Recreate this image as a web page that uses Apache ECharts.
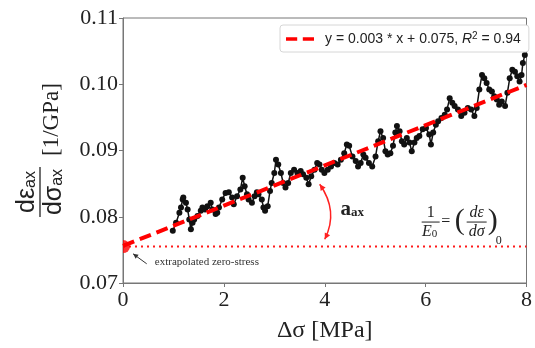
<!DOCTYPE html>
<html><head><meta charset="utf-8">
<script src="https://cdn.jsdelivr.net/npm/echarts@6/dist/echarts.min.js"></script>
<style>html,body{margin:0;padding:0;background:#fff}#c{width:535px;height:348px}</style>
</head><body><div id="c"></div>
<script>
// Measured data: stress increment (MPa) vs. compliance dε/dσ (1/GPa)
const stressX = [0.987,1.052,1.118,1.150,1.183,1.196,1.248,1.281,1.314,1.346,1.379,1.412,1.477,1.542,1.575,1.627,1.673,1.739,1.771,1.837,1.869,1.902,1.967,2.033,2.098,2.163,2.196,2.261,2.327,2.373,2.412,2.458,2.490,2.556,2.608,2.654,2.686,2.752,2.784,2.817,2.869,2.915,2.948,3.000,3.033,3.078,3.131,3.176,3.222,3.275,3.327,3.392,3.458,3.523,3.569,3.634,3.680,3.732,3.797,3.850,3.895,3.941,3.993,4.059,4.124,4.190,4.255,4.320,4.386,4.438,4.484,4.549,4.614,4.660,4.712,4.765,4.810,4.876,4.941,5.007,5.059,5.105,5.157,5.203,5.248,5.301,5.353,5.399,5.431,5.484,5.529,5.575,5.627,5.680,5.725,5.778,5.824,5.876,5.941,6.007,6.072,6.105,6.150,6.203,6.248,6.314,6.379,6.425,6.477,6.529,6.575,6.641,6.706,6.771,6.837,6.902,6.967,7.013,7.065,7.118,7.163,7.209,7.261,7.314,7.359,7.412,7.458,7.510,7.575,7.621,7.667,7.719,7.771,7.817,7.863,7.902,7.928,7.967];
const compliance = [0.0779,0.0791,0.0806,0.0814,0.0826,0.0829,0.0821,0.0811,0.0796,0.0781,0.0791,0.0796,0.0801,0.0809,0.0814,0.0811,0.0816,0.0821,0.0811,0.0804,0.0806,0.0814,0.0826,0.0836,0.0837,0.0829,0.0819,0.0831,0.0841,0.0859,0.0846,0.0834,0.0826,0.0821,0.0831,0.0837,0.0834,0.0826,0.0814,0.0809,0.0816,0.0839,0.0851,0.0866,0.0886,0.0879,0.0866,0.0851,0.0844,0.0851,0.0866,0.0871,0.0866,0.0869,0.0864,0.0859,0.0849,0.0861,0.0871,0.0881,0.0879,0.0871,0.0866,0.0871,0.0876,0.0881,0.0879,0.0886,0.0896,0.0909,0.0907,0.0891,0.0884,0.0876,0.0881,0.0894,0.0889,0.0881,0.0876,0.0891,0.0914,0.0929,0.0919,0.0899,0.0894,0.0896,0.0907,0.0927,0.0937,0.0929,0.0914,0.0909,0.0919,0.0912,0.0899,0.0912,0.0919,0.0922,0.0932,0.0934,0.0924,0.0909,0.0927,0.0939,0.0944,0.0949,0.0954,0.0962,0.0979,0.0972,0.0967,0.0962,0.0952,0.0957,0.0964,0.0962,0.0952,0.0964,0.0992,0.1014,0.1009,0.1002,0.0992,0.0989,0.0982,0.0977,0.0969,0.0974,0.0967,0.0987,0.1009,0.1022,0.1019,0.1012,0.1004,0.1014,0.1032,0.1044];
// Linear fit line end points
const fitX = [0, 8];
const fitY = [0.0756, 0.0999];
const fitName = 'y = 0.003 * x + 0.075, R² = 0.94';
// Extrapolated zero-stress compliance
const zeroStressY = 0.0755;
const xTicks = [0, 2, 4, 6, 8];
const yTicks = [0.07, 0.08, 0.09, 0.10, 0.11];

const chart = echarts.init(document.getElementById('c'));
const serif = 'Liberation Serif';
const sans = 'Liberation Sans';

chart.setOption({
  animation: false,
  grid: {left: 123, right: 2, top: 18, bottom: 65, show: true, borderColor: '#777', borderWidth: 1},
  legend: {
    data: [{name: fitName, icon: 'path://M0,0 H12 V4 H0 Z M18,0 H30 V4 H18 Z', itemStyle: {color: '#ff0000'}}],
    left: 280, top: 25, padding: [6, 8, 6, 6],
    backgroundColor: '#fff', borderColor: '#d6d6d6', borderWidth: 1, borderRadius: 3,
    itemWidth: 28, itemHeight: 4,
    formatter: () => '{t|y = 0.003 * x + 0.075, }{i|R}{p|2}{t| = 0.94}',
    textStyle: {
      padding: [0, 0, 0, 6],
      rich: {
        t: {fontFamily: sans, fontSize: 14, color: '#222', lineHeight: 16},
        i: {fontFamily: sans, fontSize: 14, fontStyle: 'italic', color: '#222', lineHeight: 16},
        p: {fontFamily: sans, fontSize: 10, color: '#222', verticalAlign: 'top', lineHeight: 10}
      }
    }
  },
  xAxis: {
    type: 'value', min: xTicks[0], max: xTicks[xTicks.length - 1], interval: 2,
    name: 'Δσ [MPa]', nameLocation: 'middle', nameGap: 36,
    nameTextStyle: {fontFamily: serif, fontSize: 24, color: '#222'},
    axisLine: {show: true, lineStyle: {color: '#777', width: 1}},
    axisTick: {show: true, length: 4, lineStyle: {color: '#777'}},
    axisLabel: {fontFamily: serif, fontSize: 22, color: '#222', margin: 6},
    splitLine: {show: false}
  },
  yAxis: {
    type: 'value', min: yTicks[0], max: yTicks[yTicks.length - 1], interval: 0.01,
    axisLine: {show: true, lineStyle: {color: '#777', width: 1}},
    axisTick: {show: true, length: 4, lineStyle: {color: '#777'}},
    axisLabel: {fontFamily: serif, fontSize: 22, color: '#222', margin: 5, formatter: v => v.toFixed(2)},
    splitLine: {show: false}
  },
  series: [
    {
      type: 'line', name: 'data', data: stressX.map((x, i) => [x, compliance[i]]),
      symbol: 'circle', symbolSize: 6, showSymbol: true,
      itemStyle: {color: '#111'}, lineStyle: {color: '#111', width: 1.5}, z: 2
    },
    {
      type: 'line', name: 'zero', data: [[fitX[0], zeroStressY], [fitX[1], zeroStressY]],
      symbol: 'none', lineStyle: {color: '#ff1a1a', width: 2, type: [2, 4]}, z: 3
    },
    {
      type: 'line', name: fitName, data: fitX.map((x, i) => [x, fitY[i]]),
      symbol: 'none', lineStyle: {color: '#ff0000', width: 4, type: [12, 6]}, itemStyle: {color: '#ff0000'}, z: 4
    },
    {
      type: 'scatter', name: 'origin', data: [[0, zeroStressY]],
      symbol: 'path://M0,0 A5,5 0 0,1 0,10 Z', symbolKeepAspect: false,
      symbolSize: [7, 13], symbolOffset: [3.5, 0], itemStyle: {color: '#ff0000'}, z: 5
    }
  ]
});

function px(p) { return chart.convertToPixel({gridIndex: 0}, p); }
function head(tip, from, len, wid, color) {
  const dx = tip[0] - from[0], dy = tip[1] - from[1];
  const L = Math.hypot(dx, dy), ux = dx / L, uy = dy / L;
  const bx = tip[0] - ux * len, by = tip[1] - uy * len;
  return {type: 'polygon', shape: {points: [tip, [bx - uy * wid, by + ux * wid], [bx + uy * wid, by - ux * wid]]}, style: {fill: color}, z: 100};
}

const g = [];
// Y-axis label (rotated fraction)
const subRich = {m: {fontFamily: sans, fontSize: 25, lineHeight: 24, fill: '#222', color: '#222'}, s: {fontFamily: sans, fontSize: 16, lineHeight: 12, verticalAlign: 'bottom', fill: '#222', color: '#222'}};
g.push({
  type: 'group', x: 40, y: 192, rotation: Math.PI / 2, z: 100,
  children: [
    {type: 'text', x: 0, y: -1, style: {text: '{m|dε}{s|ax}', align: 'center', verticalAlign: 'bottom', textAlign: 'center', textVerticalAlign: 'bottom', fill: '#222', rich: subRich}},
    {type: 'line', shape: {x1: -25, y1: 0, x2: 25, y2: 0}, style: {stroke: '#222', lineWidth: 1.3}},
    {type: 'text', x: 0, y: 2, style: {text: '{m|dσ}{s|ax}', align: 'center', verticalAlign: 'top', textAlign: 'center', textVerticalAlign: 'top', fill: '#222', rich: subRich}},
    {type: 'text', x: 36, y: 12, style: {text: '[1/GPa]', font: '23px ' + serif, align: 'left', verticalAlign: 'middle', textAlign: 'left', textVerticalAlign: 'middle', fill: '#222'}}
  ]
});

// Extrapolated zero-stress annotation
const tA = px([0.63, 0.0732]);
g.push({type: 'text', x: tA[0], y: tA[1], z: 100, style: {text: 'extrapolated zero-stress', font: '11px ' + serif, fill: '#333', align: 'left', verticalAlign: 'middle', textAlign: 'left', textVerticalAlign: 'middle'}});
const a0 = px([0.47, 0.0729]), a1 = px([0.20, 0.0744]);
g.push({type: 'line', z: 100, shape: {x1: a0[0], y1: a0[1], x2: a1[0], y2: a1[1]}, style: {stroke: '#333', lineWidth: 1}});
g.push(head(a1, a0, 5, 2.5, '#333'));

// Curved double arrow
const c0 = px([3.90, 0.0849]), cc = px([4.28, 0.0808]), c1 = px([4.00, 0.0766]);
g.push({type: 'bezierCurve', z: 100, shape: {x1: c0[0], y1: c0[1], x2: c1[0], y2: c1[1], cpx1: cc[0], cpy1: cc[1]}, style: {stroke: '#ff2020', lineWidth: 1.5, fill: null}});
g.push(head(c0, [c0[0] + (cc[0] - c0[0]) * 0.3, c0[1] + (cc[1] - c0[1]) * 0.3], 6, 3, '#ff2020'));
g.push(head(c1, [c1[0] + (cc[0] - c1[0]) * 0.3, c1[1] + (cc[1] - c1[1]) * 0.3], 6, 3, '#ff2020'));

// a_ax label
const aL = px([4.31, 0.0811]);
g.push({type: 'text', x: aL[0], y: aL[1], z: 100, style: {text: '{a|a}{s|ax}', align: 'left', verticalAlign: 'middle', textAlign: 'left', textVerticalAlign: 'middle',
  rich: {a: {fontFamily: serif, fontSize: 21, fontWeight: 'bold', lineHeight: 20, fill: '#222', color: '#222'}, s: {fontFamily: serif, fontSize: 13, fontWeight: 'bold', lineHeight: 10, verticalAlign: 'bottom', fill: '#222', color: '#222'}}}});

// Formula 1/E0 = (dε/dσ)0
const f = px([6.10, 0.0792]);
const fx = f[0], fy = f[1];
const fs = '16px ' + serif, fi = 'italic 16px ' + serif;
const T = (x, y, text, font, va, al) => ({type: 'text', x, y, z: 100, style: {text, font, fill: '#222', align: al || 'center', verticalAlign: va, textAlign: al || 'center', textVerticalAlign: va}});
g.push(T(fx, fy - 1, '1', fs, 'bottom'));
g.push({type: 'line', z: 100, shape: {x1: fx - 9, y1: fy, x2: fx + 9, y2: fy}, style: {stroke: '#222', lineWidth: 1}});
g.push({type: 'text', x: fx - 1, y: fy + 2, z: 100, style: {text: '{i|E}{s|0}', align: 'center', verticalAlign: 'top', textAlign: 'center', textVerticalAlign: 'top',
  rich: {i: {font: fi, lineHeight: 16, fill: '#222', color: '#222'}, s: {font: '11px ' + serif, lineHeight: 9, verticalAlign: 'bottom', fill: '#222', color: '#222'}}}});
g.push(T(fx + 15, fy, '=', '16px ' + serif, 'middle'));
g.push(T(fx + 29, fy - 1, '(', '30px ' + serif, 'middle'));
g.push(T(fx + 46, fy - 1, 'dε', fi, 'bottom'));
g.push({type: 'line', z: 100, shape: {x1: fx + 36, y1: fy, x2: fx + 56, y2: fy}, style: {stroke: '#222', lineWidth: 1}});
g.push(T(fx + 46, fy + 2, 'dσ', fi, 'top'));
g.push(T(fx + 62, fy - 1, ')', '30px ' + serif, 'middle'));
g.push(T(fx + 68, fy + 19, '0', '12px ' + serif, 'middle'));

chart.setOption({graphic: g});
</script>
</body></html>
